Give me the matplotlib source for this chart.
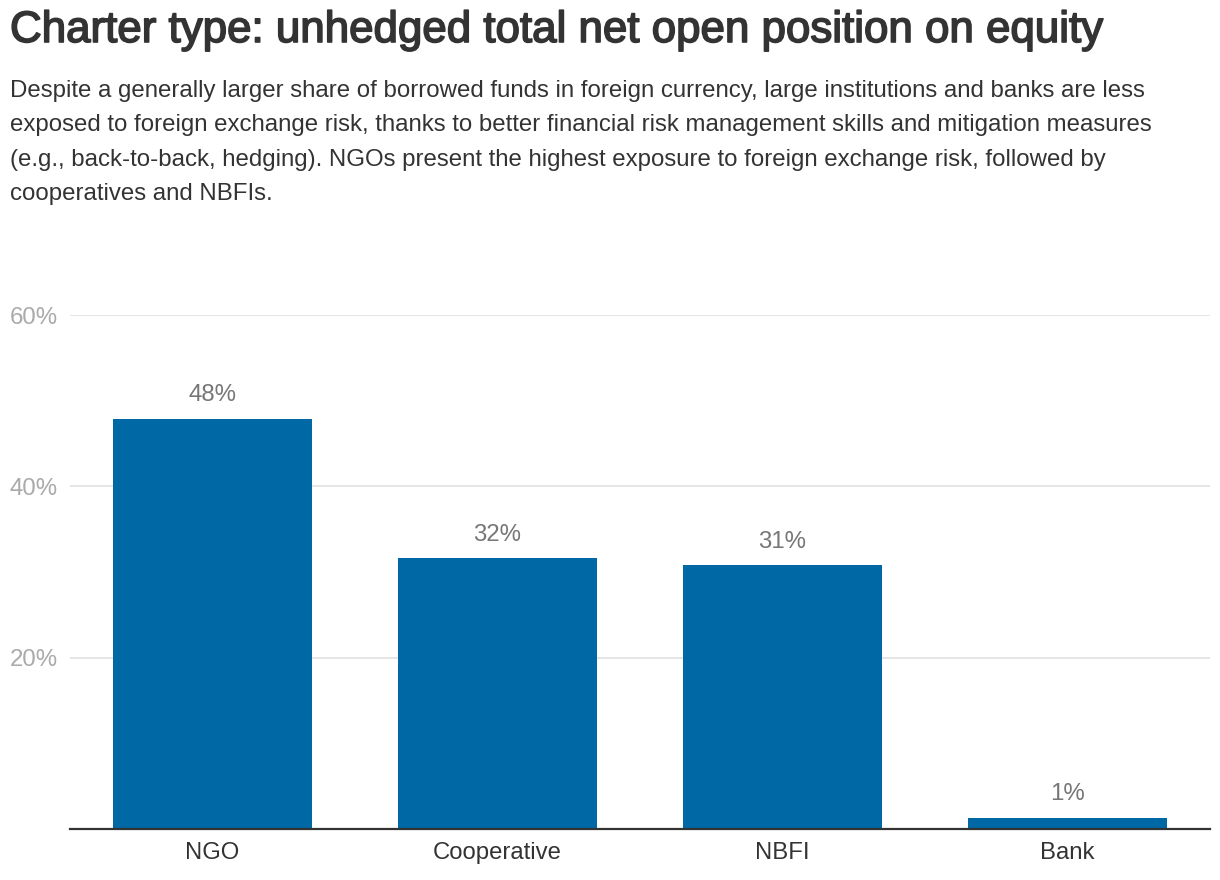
import matplotlib
matplotlib.use("Agg")
import matplotlib.pyplot as plt
from matplotlib.transforms import blended_transform_factory
import matplotlib.patheffects as pe

plt.rcParams['font.family'] = ['Liberation Sans', 'DejaVu Sans']

# data
categories = ['NGO', 'Cooperative', 'NBFI', 'Bank']
values = [47.9, 31.6, 30.8, 1.3]
labels = ['48%', '32%', '31%', '1%']
yticks = [20, 40, 60]
ytick_labels = ['20%', '40%', '60%']

title = 'Charter type: unhedged total net open position on equity'
subtitle_lines = [
    'Despite a generally larger share of borrowed funds in foreign currency, large institutions and banks are less',
    'exposed to foreign exchange risk, thanks to better financial risk management skills and mitigation measures',
    '(e.g., back-to-back, hedging). NGOs present the highest exposure to foreign exchange risk, followed by',
    'cooperatives and NBFIs.',
]

W, H = 1220, 880
fig = plt.figure(figsize=(W / 100, H / 100), dpi=100, facecolor='white')
ax = fig.add_axes([70 / W, 51 / H, 1140 / W, 514 / H])

x = range(len(categories))
ax.bar(x, values, width=0.70, color='#0068a5', zorder=3)
for i, v in enumerate(values):
    ax.text(i, v + 1.45, labels[i], ha='center', va='bottom', fontsize=17.3, color='#777777')

ax.set_xlim(-0.5, len(categories) - 0.5)
ax.set_ylim(0, 60)
ax.set_yticks(yticks)
ax.set_yticklabels([])
ax.grid(axis='y', color='#e3e3e3', lw=1.3, zorder=0)
tr = blended_transform_factory(fig.transFigure, ax.transData)
for t, lab in zip(yticks, ytick_labels):
    ax.text(10 / W, t - 0.3, lab, transform=tr, ha='left', va='center', fontsize=17.3, color='#aaaaaa')

ax.set_xticks(list(x))
ax.set_xticklabels(categories, fontsize=17.2, color='#333333')
ax.tick_params(axis='both', length=0, pad=9.5)
for s in ('top', 'right', 'left'):
    ax.spines[s].set_visible(False)
ax.spines['bottom'].set_color('#333333')
ax.spines['bottom'].set_linewidth(1.6)
ax.spines['bottom'].set_zorder(4)

fig.text(10 / W, 1 - 42 / H, title, ha='left', va='baseline', fontsize=31.6, color='#333333',
         path_effects=[pe.withStroke(linewidth=1.2, foreground='#333333')])
for k, line in enumerate(subtitle_lines):
    fig.text(10 / W, 1 - (97 + 34.3 * k) / H, line, ha='left', va='baseline', fontsize=17.3, color='#333333')

fig.savefig('out.png', dpi=100, facecolor='white')
